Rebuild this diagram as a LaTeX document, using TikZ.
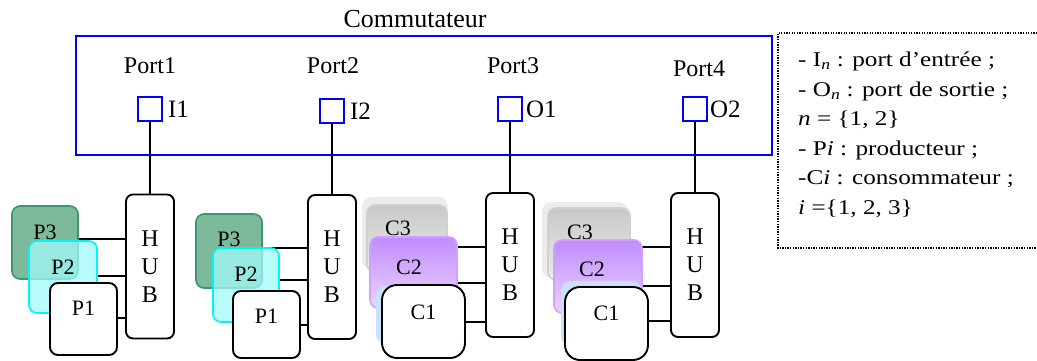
\documentclass[tikz,border=0pt]{standalone}
\usepackage{fontspec}
\setmainfont{Liberation Serif}
\newfontfamily\keyfont[FakeStretch=1.2]{Liberation Serif}
\usetikzlibrary{positioning,backgrounds}
\definecolor{ink}{gray}{0.0}
\definecolor{swblue}{RGB}{0,0,255}
\definecolor{pgreen}{RGB}{60,150,110}
\definecolor{pgreenfill}{RGB}{125,185,155}
\definecolor{pcyan}{RGB}{0,245,245}
\definecolor{pcyanfill}{RGB}{160,250,250}
\definecolor{cgray}{RGB}{200,200,200}
\definecolor{cgraylt}{RGB}{236,236,236}
\definecolor{cpurple}{RGB}{192,140,255}
\definecolor{clav}{RGB}{236,212,255}
\definecolor{cblue}{RGB}{200,225,255}
\tikzset{
  hub/.style={draw=ink, line width=1.9pt, rounded corners=7pt, fill=white, align=center,
              minimum width=48pt, minimum height=144pt, inner sep=0pt,
              font=\fontsize{24}{28}\selectfont},
  portsq/.style={draw=swblue, line width=1.9pt, minimum size=24pt, inner sep=0pt},
  unit/.style={rounded corners=8pt, inner sep=0pt, line width=1.6pt},
  prodA/.style={unit, draw=pgreen, fill=pgreenfill},
  prodB/.style={unit, draw=pcyan, fill=pcyanfill, fill opacity=0.75},
  prodC/.style={unit, draw=ink, line width=1.9pt, fill=white},
  consA/.style={unit, draw=cgray!85, top color=cgray, bottom color=cgraylt},
  consG/.style={unit, draw=cgraylt, fill=cgraylt},
  consB/.style={unit, draw=cpurple!80, top color=cpurple, bottom color=clav},
  consL/.style={unit, draw=cblue, fill=cblue},
  consC/.style={unit, draw=ink, line width=1.9pt, fill=white, rounded corners=15pt},
  wire/.style={draw=ink, line width=1.9pt},
  lbl/.style={font=\fontsize{22}{26}\selectfont, inner sep=0pt},
  plbl/.style={font=\fontsize{24}{28}\selectfont, inner sep=0pt},
}

\begin{document}
\begin{tikzpicture}[x=1pt, y=-1pt]
    \useasboundingbox (0,0) rectangle (1037,360);

    \node[font=\fontsize{26}{30}\selectfont] (title) at (415,19) {Commutateur};
    \node[draw=swblue, line width=2pt, minimum width=696pt, minimum height=119pt,
          inner sep=0pt] (sw) at (424,95.5) {};

    \node[plbl] (port1) at (150,66) {Port1};
    \node[plbl] (port2) at (333,66) {Port2};
    \node[plbl] (port3) at (513,66) {Port3};
    \node[plbl] (port4) at (699,69) {Port4};

    \node[portsq] (sq1) at (150,109) {};
    \node[portsq] (sq2) at (332,111) {};
    \node[portsq] (sq3) at (510,109) {};
    \node[portsq] (sq4) at (695,109) {};
    \node[plbl, font=\fontsize{25}{28}\selectfont, right=5pt of sq1] (i1) {I1};
    \node[plbl, font=\fontsize{25}{28}\selectfont, right=5pt of sq2] (i2) {I2};
    \node[plbl, font=\fontsize{25}{28}\selectfont, right=3pt of sq3] (o1) {O1};
    \node[plbl, font=\fontsize{25}{28}\selectfont, right=2pt of sq4] (o2) {O2};

    \node[hub] (hub1) at (150,266.5) {H\\U\\B};
    \node[hub] (hub2) at (332,267)   {H\\U\\B};
    \node[hub] (hub3) at (510,265)   {H\\U\\B};
    \node[hub] (hub4) at (695,265)   {H\\U\\B};

    % producteurs
    \node[prodA, minimum width=66pt, minimum height=73pt,
          label={[lbl, yshift=10.5pt]center:P3}] (p3a) at (45,242.5) {};
    \node[prodB, minimum width=68pt, minimum height=72pt,
          label={[lbl, yshift=10pt]center:P2}] (p2a) at (63,277) {};
    \node[prodC, minimum width=67pt, minimum height=72pt,
          label={[lbl, yshift=11pt]center:P1}] (p1a) at (83.5,319) {};

    \node[prodA, minimum width=66pt, minimum height=74pt,
          label={[lbl, yshift=12pt]center:P3}] (p3b) at (229,251) {};
    \node[prodB, minimum width=66pt, minimum height=74pt,
          label={[lbl, yshift=11pt]center:P2}] (p2b) at (246,285) {};
    \node[prodC, minimum width=67pt, minimum height=67pt,
          label={[lbl, yshift=8.5pt]center:P1}] (p1b) at (266.5,324.5) {};

    % consommateurs
    \node[consG, minimum width=84pt, minimum height=70pt] (g3a) at (405,233) {};
    \node[consA, minimum width=80pt, minimum height=67pt,
          label={[lbl, xshift=-9pt, yshift=10.5pt]center:C3}] (c3a) at (407,238.5) {};
    \node[consB, minimum width=87pt, minimum height=71pt,
          label={[lbl, xshift=-4.5pt, yshift=5.5pt]center:C2}] (c2a) at (413.5,272.5) {};
    \node[consL, minimum width=78pt, minimum height=56pt] (l1a) at (416,315) {};
    \node[consC, minimum width=83pt, minimum height=73pt,
          label={[lbl, yshift=9.5pt]center:C1}] (c1a) at (423.5,321.5) {};

    \node[consG, minimum width=84pt, minimum height=74pt] (g3b) at (585,240) {};
    \node[consA, minimum width=82pt, minimum height=72pt,
          label={[lbl, xshift=-9pt, yshift=12pt]center:C3}] (c3b) at (589,244) {};
    \node[consB, minimum width=88pt, minimum height=73pt,
          label={[lbl, xshift=-6pt, yshift=7.5pt]center:C2}] (c2b) at (598,276.5) {};
    \node[consL, minimum width=78pt, minimum height=63pt] (l1b) at (601,313.5) {};
    \node[consC, minimum width=83pt, minimum height=73pt,
          label={[lbl, yshift=10.5pt]center:C1}] (c1b) at (606.5,323.5) {};

    \begin{scope}[on background layer]
    \draw[wire] (sq1.south) -- (hub1.north);
    \draw[wire] (sq2.south) -- (hub2.north);
    \draw[wire] (sq3.south) -- (hub3.north);
    \draw[wire] (sq4.south) -- (hub4.north);

    \draw[wire] (p3a.east |- 0,239) -- (hub1.west |- 0,239);
    \draw[wire] (p2a.east |- 0,276) -- (hub1.west |- 0,276);
    \draw[wire] (p1a.east |- 0,318) -- (hub1.west |- 0,318);
    \draw[wire] (p3b.east |- 0,248) -- (hub2.west |- 0,248);
    \draw[wire] (p2b.east |- 0,280) -- (hub2.west |- 0,280);
    \draw[wire] (p1b.east |- 0,325) -- (hub2.west |- 0,325);
    \draw[wire] (c3a.east |- 0,247) -- (hub3.west |- 0,247);
    \draw[wire] (c2a.east |- 0,283) -- (hub3.west |- 0,283);
    \draw[wire] (c1a.east |- 0,322) -- (hub3.west |- 0,322);
    \draw[wire] (c3b.east |- 0,247) -- (hub4.west |- 0,247);
    \draw[wire] (c2b.east |- 0,286) -- (hub4.west |- 0,286);
    \draw[wire] (c1b.east |- 0,321) -- (hub4.west |- 0,321);
    \end{scope}

    % legende
    \draw[line width=1.4pt, dash pattern=on 1.3pt off 1.3pt]
        (1045,33) -- (778,33) -- (778,248) -- (1045,248);
    \node[anchor=north west, align=left, inner sep=0pt,
          font=\keyfont\fontsize{21}{29.5}\selectfont] (key) at (798,52)
        {- I\textsubscript{\textit{n}} : port d’entrée ;\\
         - O\textsubscript{\textit{n}} : port de sortie ;\\
         \textit{n} = \{1, 2\}\\
         - P\textit{i} : producteur ;\\
         -C\textit{i} : consommateur ;\\
         \textit{i} =\{1, 2, 3\}};
\end{tikzpicture}
\end{document}
